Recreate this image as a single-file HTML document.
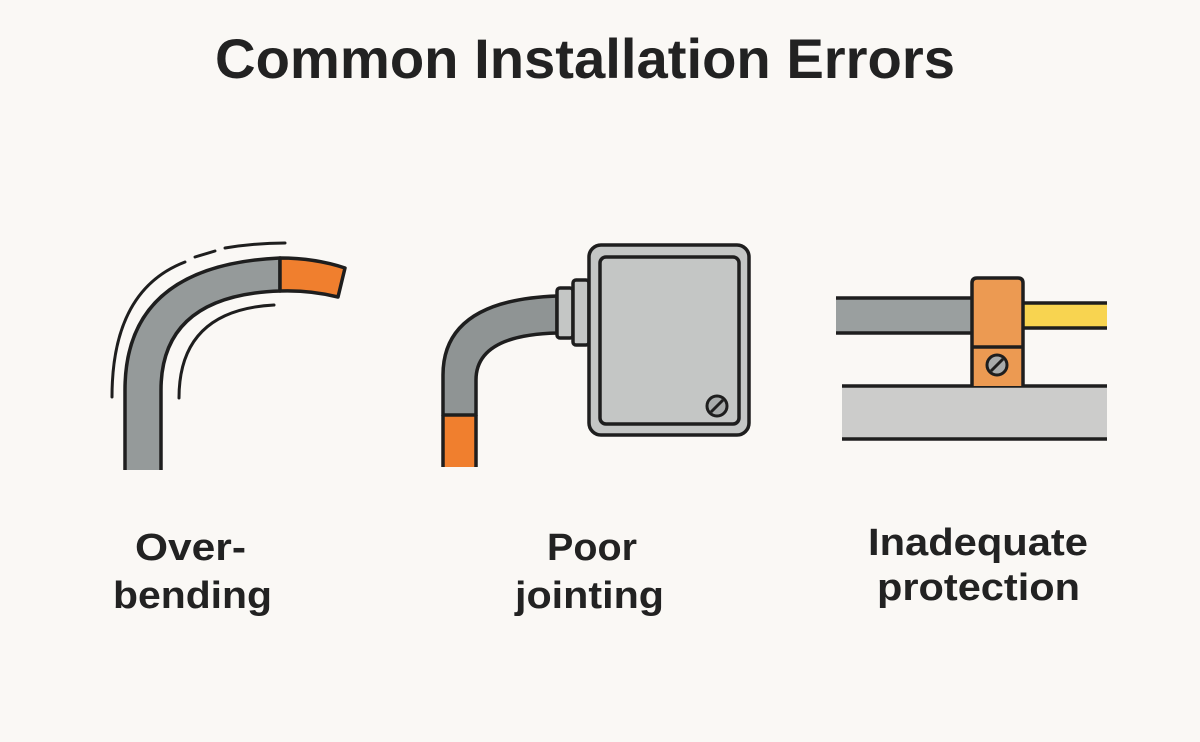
<!DOCTYPE html>
<html><head><meta charset="utf-8"><style>
html,body{margin:0;padding:0;background:#faf8f5;}
svg{display:block}
text{font-family:"Liberation Sans",sans-serif;font-weight:bold;fill:#222;}
</style></head><body>
<svg width="1200" height="742" viewBox="0 0 1200 742" xmlns="http://www.w3.org/2000/svg">
<rect width="1200" height="742" fill="#faf8f5"/>
<text x="215" y="78" font-size="56" textLength="740" lengthAdjust="spacingAndGlyphs">Common Installation Errors</text>

<!-- Panel 1 -->
<g stroke="#1e1e1e" stroke-width="3.5" stroke-linejoin="round">
<path d="M125,470 L125,390 Q125,265 280,258 L280,291 Q161,295 161,390 L161,470" fill="#959a9a"/>
<path d="M280,258 Q315,258 345,268 L338,297 Q310,290 280,291 Z" fill="#f07f2e"/>
</g>
<g fill="none" stroke="#1e1e1e" stroke-width="3" stroke-linecap="round">
<path d="M112,397 Q112,290 185,262" />
<path d="M195,257 L215,251"/>
<path d="M225,248 Q255,243 285,243"/>
<path d="M179,398 Q179,310 274,305"/>
</g>

<!-- Panel 2 -->
<g stroke="#1e1e1e" stroke-width="3.5" stroke-linejoin="round">
<rect x="443" y="415" width="33" height="52" fill="#f07f2e" stroke="none"/>
<path d="M443,467 L443,415 M476,415 L476,467" fill="none"/>
<path d="M443,415 L443,375 Q443,300 557,296 L557,333 Q476,335 476,380 L476,415 Z" fill="#8f9494"/>
<rect x="557" y="288" width="16" height="50" rx="3" fill="#c4c6c5"/>
<rect x="573" y="280" width="16" height="65" rx="3" fill="#c4c6c5"/>
<rect x="589" y="245" width="160" height="190" rx="12" fill="#c4c6c5"/>
<rect x="600" y="257" width="139" height="167" rx="6" fill="#c4c6c5"/>
<circle cx="717" cy="406" r="10" fill="#a8abab" stroke-width="3"/>
<line x1="711" y1="412" x2="723" y2="400" stroke-width="3"/>
</g>

<!-- Panel 3 -->
<g stroke="#1e1e1e" stroke-width="3.5" stroke-linejoin="round">
<rect x="842" y="386" width="265" height="53" fill="#cccccb" stroke="none"/>
<line x1="842" y1="386" x2="1107" y2="386"/>
<line x1="842" y1="439" x2="1107" y2="439"/>
<rect x="836" y="298" width="136" height="35" fill="#9a9f9f" stroke="none"/>
<line x1="836" y1="298" x2="972" y2="298"/>
<line x1="836" y1="333" x2="972" y2="333"/>
<rect x="1023" y="303" width="84" height="25" fill="#f8d450" stroke="none"/>
<line x1="1023" y1="303" x2="1107" y2="303"/>
<line x1="1023" y1="328" x2="1107" y2="328"/>
<path d="M972,386 L972,283 Q972,278 977,278 L1018,278 Q1023,278 1023,283 L1023,386" fill="#ec9a52"/>
<line x1="972" y1="347" x2="1023" y2="347"/>
<circle cx="997" cy="365" r="10" fill="#a8abab" stroke-width="3"/>
<line x1="991" y1="371" x2="1003" y2="359" stroke-width="3"/>
</g>

<text x="135" y="560" font-size="38" textLength="111" lengthAdjust="spacingAndGlyphs">Over-</text>
<text x="113" y="608" font-size="38" textLength="159" lengthAdjust="spacingAndGlyphs">bending</text>
<text x="547" y="560" font-size="38" textLength="90" lengthAdjust="spacingAndGlyphs">Poor</text>
<text x="515" y="608" font-size="38" textLength="149" lengthAdjust="spacingAndGlyphs">jointing</text>
<text x="868" y="555" font-size="38" textLength="220" lengthAdjust="spacingAndGlyphs">Inadequate</text>
<text x="877" y="600" font-size="38" textLength="203" lengthAdjust="spacingAndGlyphs">protection</text>
</svg>
</body></html>
